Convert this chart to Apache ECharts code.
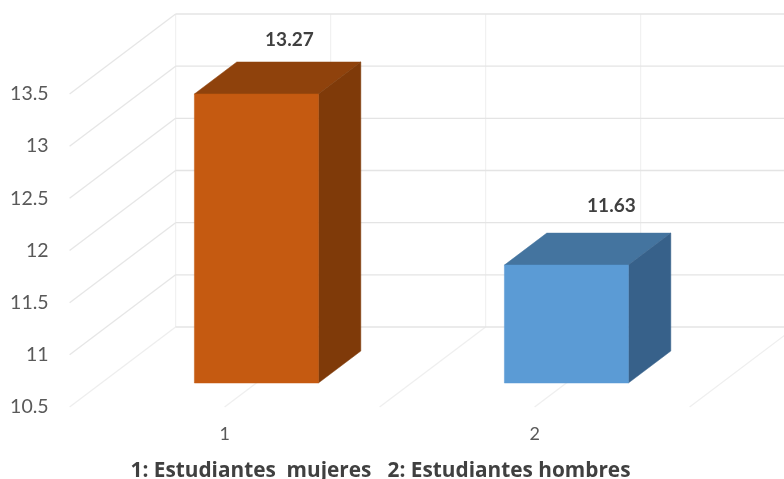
<!DOCTYPE html>
<html>
<head>
<meta charset="utf-8">
<style>html,body{margin:0;padding:0;background:#fff}#c{width:784px;height:479px}</style>
<script src="https://cdn.jsdelivr.net/npm/echarts@6/dist/echarts.min.js"></script>
</head>
<body>
<div id="c"></div>
<script>
const categories = ['1', '2'];
const values = [13.27, 11.63];
const valueLabels = ['13.27', '11.63'];
const yTicks = [10.5, 11, 11.5, 12, 12.5, 13, 13.5];
const caption = '1: Estudiantes  mujeres   2: Estudiantes hombres';

const font = 'Lato, "Open Sans", sans-serif';
const captionFont = '"Open Sans", Lato, sans-serif';
const wallDX = 106, wallDY = 80;       // full floor depth in pixels
const barStart = 0.3, barDepth = 0.4;  // fraction of the floor depth
const barWidth = 0.4;                  // fraction of a category band
const barColors = [
  { front: '#C55A11', top: '#8F420C', side: '#7F3A09' },
  { front: '#5B9BD5', top: '#44749F', side: '#37618A' }
];
const labelNudge = [[33, -54], [45, -59]];

function line(x1, y1, x2, y2, color) {
  return { type: 'line', shape: { x1, y1, x2, y2 }, style: { stroke: color, lineWidth: 1.3 }, silent: true };
}
function poly(points, color) {
  return { type: 'polygon', shape: { points }, style: { fill: color, stroke: color, lineWidth: 0.5 } };
}

// Horizontal gridlines on back wall plus their diagonals on the side wall
function renderTicks(params, api) {
  const band = api.size([1, 0])[0];
  const p = api.coord([0, api.value(1)]);
  const left = p[0] - band / 2;
  const color = api.value(1) === yTicks[0] ? '#EEEEEE' : '#E6E6E6';
  return { type: 'group', children: [
    line(left, p[1], left + wallDX, p[1] - wallDY, color),
    line(left + wallDX, p[1] - wallDY, left + wallDX + band * categories.length, p[1] - wallDY, '#E4E4E4')
  ]};
}

// Floor diagonals and back wall verticals every half band
function renderFloor(params, api) {
  const band = api.size([1, 0])[0];
  const bottom = api.coord([0, yTicks[0]]);
  const top = api.coord([0, yTicks[yTicks.length - 1]]);
  const x = bottom[0] - band / 2 + api.value(0) * band / 2;
  const kids = [line(x + wallDX, bottom[1] - wallDY, x + wallDX, top[1] - wallDY, '#F1F1F1')];
  if (api.value(0) > 0) kids.push(line(x, bottom[1], x + wallDX, bottom[1] - wallDY, '#EFEFEF'));
  return { type: 'group', children: kids };
}

function renderBar(params, api) {
  const i = params.dataIndex;
  const band = api.size([1, 0])[0];
  const base = api.coord([i, yTicks[0]]);
  const tip = api.coord([i, api.value(1)]);
  const w = band * barWidth;
  const sx = wallDX * barStart, sy = wallDY * barStart;
  const dx = wallDX * barDepth, dy = wallDY * barDepth;
  const l = base[0] + sx - w / 2, r = l + w;
  const b = base[1] - sy, t = tip[1] - sy;
  const c = barColors[i];
  return { type: 'group', children: [
    poly([[l, t], [l + dx, t - dy], [r + dx, t - dy], [r, t]], c.top),
    poly([[r, t], [r + dx, t - dy], [r + dx, b - dy], [r, b]], c.side),
    poly([[l, t], [r, t], [r, b], [l, b]], c.front),
    { type: 'text', style: {
        x: (l + r) / 2 + labelNudge[i][0], y: t + labelNudge[i][1],
        text: valueLabels[i], fill: '#404040', font: 'bold 19px ' + font,
        textAlign: 'center', textVerticalAlign: 'middle' } }
  ]};
}

const chart = echarts.init(document.getElementById('c'), null, { renderer: 'canvas' });
chart.setOption({
  animation: false,
  backgroundColor: '#fff',
  title: {
    text: caption, left: 380.5, top: 457, textAlign: 'center', padding: 0,
    textStyle: { color: '#404040', fontFamily: captionFont, fontWeight: 'bold', fontSize: 20.8, lineHeight: 28 }
  },
  grid: { left: 69.6, top: 94, width: 620, height: 313, containLabel: false },
  xAxis: {
    type: 'category', data: categories,
    axisLine: { show: false }, axisTick: { show: false }, splitLine: { show: false },
    axisLabel: { color: '#595959', fontFamily: font, fontSize: 18, margin: 18 }
  },
  yAxis: {
    type: 'value', min: 10.5, max: 13.5, interval: 0.5,
    axisLine: { show: false }, axisTick: { show: false }, splitLine: { show: false },
    axisLabel: { color: '#595959', fontFamily: font, fontSize: 19.5, margin: 21, padding: [2, 0, 0, 0] }
  },
  series: [
    { type: 'custom', name: 'floor', silent: true, z: 1, renderItem: renderFloor,
      data: [0, 1, 2, 3, 4].map(k => [k, yTicks[0]]), encode: { x: -1, y: 1 } },
    { type: 'custom', name: 'ticks', silent: true, z: 1, renderItem: renderTicks,
      data: yTicks.map(v => [0, v]), encode: { x: 0, y: 1 } },
    { type: 'custom', name: 'bars', z: 2, renderItem: renderBar,
      data: values.map((v, i) => [i, v]), encode: { x: 0, y: 1 } }
  ]
});
</script>
</body>
</html>
